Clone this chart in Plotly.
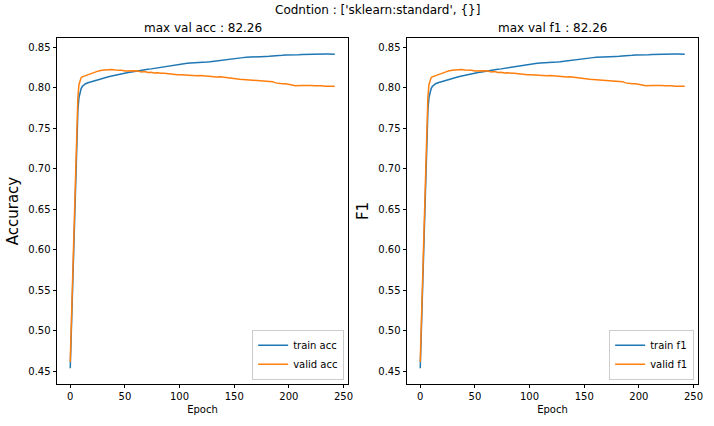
import plotly.graph_objects as go

# ---- data ----
epochs = [0, 1, 2, 3, 4, 5, 6, 7, 8, 9, 10, 11, 12, 13, 14,
          17, 20, 23, 26, 29, 32, 35, 38, 41, 44, 47, 50, 53, 56, 59,
          62, 65, 68, 71, 74, 77, 80, 83, 86, 89, 92, 95, 98, 101, 104,
          107, 110, 113, 116, 119, 122, 125, 128, 131, 134, 137, 140, 143, 146, 149,
          152, 155, 158, 161, 164, 167, 170, 173, 176, 179, 182, 185, 188, 191, 194,
          197, 200, 203, 206, 209, 212, 215, 218, 221, 224, 227, 230, 233, 236, 239, 242]

train_acc = [0.4537, 0.500, 0.550, 0.600, 0.650, 0.695, 0.740, 0.772, 0.788, 0.795, 0.799, 0.8015, 0.803, 0.804, 0.805,
             0.8065, 0.8078, 0.809, 0.8102, 0.811, 0.8125, 0.8135, 0.8145, 0.8155, 0.816, 0.8172, 0.818, 0.8188, 0.8195, 0.8203,
             0.821, 0.8215, 0.822, 0.8228, 0.8233, 0.824, 0.8248, 0.8255, 0.826, 0.8266, 0.8275, 0.8282, 0.8288, 0.8292, 0.8295,
             0.8302, 0.8305, 0.8306, 0.8308, 0.831, 0.8313, 0.8318, 0.8322, 0.8326, 0.8332, 0.8338, 0.8344, 0.8348, 0.8353, 0.8358,
             0.8362, 0.8367, 0.8372, 0.8377, 0.838, 0.8383, 0.8385, 0.8386, 0.8386, 0.8387, 0.8388, 0.8389, 0.8392, 0.8396, 0.840,
             0.8405, 0.8408, 0.8408, 0.8407, 0.8408, 0.841, 0.8412, 0.8415, 0.8418, 0.842, 0.842, 0.8418, 0.8417, 0.8418, 0.8416, 0.8415]

valid_acc = [0.4615, 0.510, 0.560, 0.610, 0.660, 0.710, 0.755, 0.788, 0.804, 0.810, 0.8125, 0.8135, 0.814, 0.8145, 0.815,
             0.8168, 0.8185, 0.8195, 0.8208, 0.8215, 0.822, 0.8226, 0.8224, 0.822, 0.8222, 0.8215, 0.8208, 0.821, 0.8205, 0.821,
             0.8206, 0.8195, 0.820, 0.8188, 0.8192, 0.8182, 0.8186, 0.8178, 0.818, 0.8174, 0.8168, 0.8165, 0.816, 0.8162, 0.8158,
             0.8155, 0.815, 0.8152, 0.8148, 0.815, 0.8146, 0.8143, 0.8145, 0.8138, 0.8132, 0.8136, 0.813, 0.812, 0.8115, 0.8112,
             0.8108, 0.8105, 0.8103, 0.810, 0.8102, 0.8097, 0.8094, 0.8093, 0.809, 0.8085, 0.8082, 0.8075, 0.806, 0.8052, 0.805,
             0.8048, 0.8045, 0.8035, 0.8025, 0.8022, 0.8028, 0.8027, 0.803, 0.8028, 0.8025, 0.8027, 0.8024, 0.802, 0.8022, 0.8018, 0.8019]

train_f1 = list(train_acc)
valid_f1 = list(valid_acc)

x_ticks = [0, 50, 100, 150, 200, 250]
y_ticks = [0.45, 0.50, 0.55, 0.60, 0.65, 0.70, 0.75, 0.80, 0.85]

suptitle = "Codntion : ['sklearn:standard', {}]"
title_acc = "max val acc : %.2f" % (max(valid_acc) * 100)
title_f1 = "max val f1 : %.2f" % (max(valid_f1) * 100)

BLUE = "#1f77b4"
ORANGE = "#ff7f0e"
FONT = "DejaVu Sans"

fig = go.Figure()
fig.add_trace(go.Scatter(x=epochs, y=train_acc, mode="lines", name="train acc",
                         line=dict(color=BLUE, width=1.5), xaxis="x", yaxis="y", legend="legend"))
fig.add_trace(go.Scatter(x=epochs, y=valid_acc, mode="lines", name="valid acc",
                         line=dict(color=ORANGE, width=1.5), xaxis="x", yaxis="y", legend="legend"))
fig.add_trace(go.Scatter(x=epochs, y=train_f1, mode="lines", name="train f1",
                         line=dict(color=BLUE, width=1.5), xaxis="x2", yaxis="y2", legend="legend2"))
fig.add_trace(go.Scatter(x=epochs, y=valid_f1, mode="lines", name="valid f1",
                         line=dict(color=ORANGE, width=1.5), xaxis="x2", yaxis="y2", legend="legend2"))

L, R, T, B = 57, 16, 38, 42
W, H = 714, 426
pw = W - L - R
ph = H - T - B
d1 = [0, 291 / pw]
d2 = [(407 - L) / pw, 1]

xmin = -0.05 * max(epochs)
xmax = max(epochs) * 1.05
ally = train_acc + valid_acc
ymin_d, ymax_d = min(ally), max(ally)
pad = 0.05 * (ymax_d - ymin_d)
yrange = [ymin_d - pad, ymax_d + pad]

axis_common = dict(showline=True, linecolor="black", linewidth=0.8, mirror=True,
                   ticks="outside", ticklen=3.5, tickwidth=0.8, tickcolor="black",
                   showgrid=False, zeroline=False,
                   tickfont=dict(family=FONT, size=10, color="black"))

fig.update_layout(
    width=W, height=H,
    margin=dict(l=L, r=R, t=T, b=B),
    paper_bgcolor="white", plot_bgcolor="white",
    font=dict(family=FONT, size=10, color="black"),
    xaxis=dict(domain=d1, range=[xmin, xmax], tickvals=x_ticks, anchor="y",
               title=dict(text="Epoch", font=dict(size=10), standoff=4), **axis_common),
    yaxis=dict(domain=[0, 1], range=yrange, tickvals=y_ticks, tickformat=".2f", anchor="x",
               title=dict(text="Accuracy", font=dict(size=15), standoff=6), **axis_common),
    xaxis2=dict(domain=d2, range=[xmin, xmax], tickvals=x_ticks, anchor="y2",
                title=dict(text="Epoch", font=dict(size=10), standoff=4), **axis_common),
    yaxis2=dict(domain=[0, 1], range=yrange, tickvals=y_ticks, tickformat=".2f", anchor="x2",
                title=dict(text="F1", font=dict(size=15), standoff=6), **axis_common),
    legend=dict(x=d1[1] - 0.006, y=0.012, xanchor="right", yanchor="bottom",
                bgcolor="rgba(255,255,255,0.8)", bordercolor="#cccccc", borderwidth=1,
                font=dict(family=FONT, size=10), tracegroupgap=0, itemwidth=30),
    legend2=dict(x=d2[1] - 0.006, y=0.012, xanchor="right", yanchor="bottom",
                 bgcolor="rgba(255,255,255,0.8)", bordercolor="#cccccc", borderwidth=1,
                 font=dict(family=FONT, size=10), tracegroupgap=0, itemwidth=30),
    annotations=[
        dict(text=suptitle, x=0.5, y=1 + (T - 10) / ph, xref="paper", yref="paper", showarrow=False,
             font=dict(family=FONT, size=12), xanchor="center", yanchor="middle"),
        dict(text=title_acc, x=(d1[0] + d1[1]) / 2, y=1, xref="paper", yref="paper",
             showarrow=False, font=dict(family=FONT, size=12), xanchor="center", yanchor="bottom", yshift=1),
        dict(text=title_f1, x=(d2[0] + d2[1]) / 2, y=1, xref="paper", yref="paper",
             showarrow=False, font=dict(family=FONT, size=12), xanchor="center", yanchor="bottom", yshift=1),
    ],
)

fig.write_html("out.html", config={"displayModeBar": False},
               post_script="document.body.style.margin='0px';document.body.style.overflow='hidden';")
